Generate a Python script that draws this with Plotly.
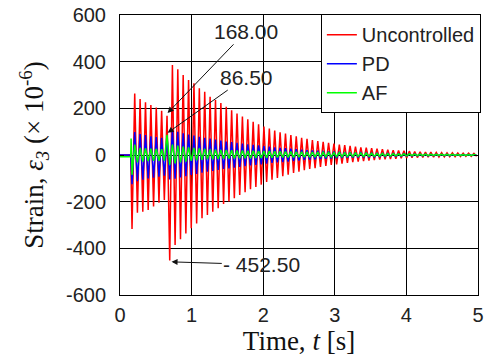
import plotly.graph_objects as go

# ---- data ----
# Time grid of the oscillation extremes (alternating trough / peak)
T0 = 0.168          # s, first extreme
HALF = 0.0376       # s, half period of the oscillation

# Uncontrolled (red): troughs at even half-cycles, peaks at odd ones
red_troughs = [-317, -247, -243, -236, -221, -205, -193,
               -452.5, -386, -361, -336, -314, -293, -271, -257, -243, -228, -210,
               -199, -185, -171, -159, -147, -137, -127, -116, -106, -98, -91, -84,
               -77, -71, -65, -60, -56, -51, -47, -43, -40, -37, -34, -31, -28, -26,
               -24, -22, -20, -18, -17, -16, -14, -13, -12, -11, -10, -9.5, -9, -8.5,
               -8, -7.5, -7, -6.5, -6, -5.5, -5]
red_peaks = [264, 240, 226, 214, 203, 190, 168,
             386, 367, 343, 321, 307, 286, 271, 250, 236, 223, 207, 192, 178, 165,
             153, 142, 132, 122, 113, 105, 97, 92, 86, 80, 74, 69, 64, 60, 56, 52,
             49, 45, 42, 39, 36, 33, 31, 29, 27, 25, 23, 21, 19, 18, 16.5, 15, 14,
             13, 12, 11, 10, 9.5, 9, 8.5, 8, 7.5, 7]

# PD (blue)
blue_troughs = [-125, -112, -106, -101, -97, -93, -89,
                -105, -102, -96, -91, -86, -81, -76, -72, -68, -64, -60, -57, -54,
                -51, -48, -45, -42, -40, -37, -34, -32, -30, -28, -26, -24, -22, -20,
                -19, -17.5, -16, -15, -14, -13, -12, -11, -10, -9.4, -8.7, -8, -7.4,
                -6.8, -6.3, -5.8, -5.3, -4.8, -4.4, -4, -3.7, -3.4, -3.1, -2.9, -2.7,
                -2.5, -2.3, -2.1, -2, -1.8, -1.7]
blue_peaks = [98, 90, 85, 80, 77, 74, 80,
              108, 99, 93, 88, 83, 78, 74, 70, 66, 62, 58, 55, 52, 49, 46, 44, 41,
              38.5, 35.5, 33, 31, 29, 27, 25, 23, 21, 19.5, 18, 17, 15.5, 14.5, 13.5,
              12.5, 11.5, 10.5, 9.7, 9, 8.4, 7.7, 7.1, 6.5, 6, 5.5, 5, 4.6, 4.2, 3.8,
              3.5, 3.2, 3.0, 2.8, 2.6, 2.4, 2.2, 2.0, 1.9, 1.7]

# AF (green)
green_pre_t = [0.0, 0.150, 0.155]
green_pre = [-8, -8, 71]
green_troughs = [-85, -32, -28, -26, -25, -25, -24,
                 -42, -36, -32, -28, -25, -23, -21, -19, -18, -17, -16, -15.5, -15,
                 -14.5, -14, -13.5, -13, -12.5, -12, -11.5, -11, -10.7, -10.4, -10,
                 -9.7, -9.4, -9, -8.7, -8.4, -8, -7.7, -7.4, -7, -6.7, -6.4, -6, -5.7,
                 -5.4, -5, -4.7, -4.4, -4.1, -3.8, -3.5, -3.3, -3.1, -2.9, -2.7, -2.5,
                 -2.3, -2.2, -2.1, -2, -1.9, -1.8, -1.7, -1.6, -1.5]
green_peaks = [45, 30, 28, 27, 26, 25, 86.5,
               45, 40, 36, 33, 30, 28, 26, 24, 23, 22, 21, 20, 19.5, 19, 18.5, 18,
               17.5, 17, 16.5, 16, 15.5, 15, 14.5, 14, 13.5, 13, 12.5, 12, 11.5, 11,
               10.5, 10, 9.5, 9, 8.5, 8, 7.5, 7, 6.6, 6.2, 5.8, 5.4, 5, 4.7, 4.4, 4.1,
               3.8, 3.5, 3.3, 3.1, 2.9, 2.7, 2.5, 2.3, 2.1, 1.9, 1.7]

pre_t = [0.0, 0.150]
pre_v = [0, 0]

x_ticks = [0, 1, 2, 3, 4, 5]
x_ticktext = ["0", "1", "2", "3", "4", "5"]
y_ticks = [-600, -400, -200, 0, 200, 400, 600]
y_ticktext = ["-600", "-400", "-200", "0", "200", "400", "600"]


def interleave(troughs, peaks):
    t, v = [], []
    k = 0
    while True:
        src = troughs if k % 2 == 0 else peaks
        i = k // 2
        if i >= len(src):
            break
        t.append(T0 + k * HALF)
        v.append(src[i])
        k += 1
    return t, v


rt, rv = interleave(red_troughs, red_peaks)
bt, bv = interleave(blue_troughs, blue_peaks)
gt, gv = interleave(green_troughs, green_peaks)

fig = go.Figure()
fig.add_trace(go.Scatter(x=pre_t + rt, y=pre_v + rv, mode="lines", name="Uncontrolled",
                         line=dict(color="#ff0000", width=1.5)))
fig.add_trace(go.Scatter(x=pre_t + bt, y=pre_v + bv, mode="lines", name="PD",
                         line=dict(color="#0000ff", width=1.5)))
fig.add_trace(go.Scatter(x=green_pre_t + gt, y=green_pre + gv, mode="lines", name="AF",
                         line=dict(color="#00ff00", width=1.5)))

tickfont = dict(family="Liberation Sans, Arial", size=20, color="#222")
axis_common = dict(showline=True, linecolor="#000", linewidth=1, mirror="ticks",
                   showgrid=True, gridcolor="#000", gridwidth=1, zeroline=False,
                   ticks="inside", ticklen=4, tickcolor="#000", tickfont=tickfont)
title_font = dict(family="Liberation Serif, Times New Roman", size=27, color="#111")

fig.update_xaxes(range=[0, 5], tickvals=x_ticks, ticktext=x_ticktext,
                 title=dict(text="Time, <i>t</i> [s]", font=title_font, standoff=2),
                 ticklabelstandoff=2,
                 **axis_common)
fig.update_yaxes(range=[-600, 600], tickvals=y_ticks, ticktext=y_ticktext,
                 title=dict(text="Strain, <i>ε</i><sub><i>3</i></sub> (× 10<sup>-6</sup>)",
                            font=title_font, standoff=14),
                 ticklabelstandoff=9,
                 **axis_common)

annfont = dict(family="Liberation Sans, Arial", size=21, color="#222")
fig.add_annotation(x=0.665, y=180, ax=1.76, ay=530, axref="x", ayref="y",
                   text="168.00", showarrow=True, arrowhead=2, arrowsize=1.2,
                   arrowwidth=1, arrowcolor="#111", font=annfont)
fig.add_annotation(x=0.665, y=95, ax=1.76, ay=334, axref="x", ayref="y",
                   text="86.50", showarrow=True, arrowhead=2, arrowsize=1.2,
                   arrowwidth=1, arrowcolor="#111", font=annfont)
fig.add_annotation(x=0.72, y=-458, ax=1.98, ay=-470, axref="x", ayref="y",
                   text="- 452.50", showarrow=True, arrowhead=2, arrowsize=1.2,
                   arrowwidth=1, arrowcolor="#111", font=annfont)

fig.update_layout(
    width=487, height=364,
    margin=dict(l=120, r=9, t=15, b=69, autoexpand=False),
    paper_bgcolor="white", plot_bgcolor="white",
    showlegend=True,
    legend=dict(x=1.008, xanchor="right", y=1.003, yanchor="top",
                bgcolor="white", bordercolor="#000", borderwidth=1,
                font=dict(family="Liberation Sans, Arial", size=20, color="#222"),
                tracegroupgap=0, itemwidth=30,
                entrywidth=135, entrywidthmode="pixels"),
)

fig.write_html("out.html", config={"displayModeBar": False},
               post_script="document.body.style.margin='0';document.body.style.overflow='hidden';")
